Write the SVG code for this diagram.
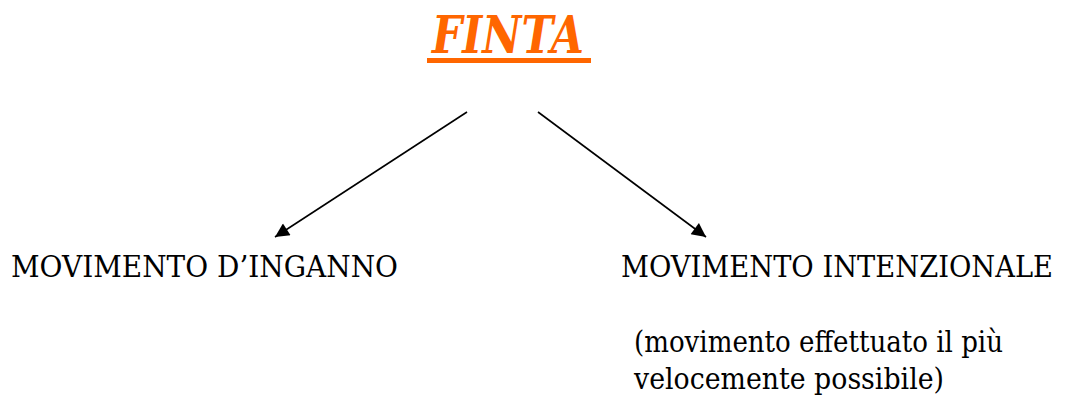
<svg xmlns="http://www.w3.org/2000/svg" width="1069" height="395" viewBox="0 0 1069 395">
<style>
.t{font-family:'DejaVu Serif',serif;font-size:30px;fill:#000}
.title{font-family:'DejaVu Serif',serif;font-size:52px;font-weight:bold;font-style:italic;fill:#FF6600}
.c{stroke:#000;stroke-width:1.6;fill:none;marker-end:url(#ah)}
</style>
<defs>
<marker id="ah" viewBox="0 0 10 10" refX="10" refY="5" markerWidth="18" markerHeight="14" markerUnits="userSpaceOnUse" orient="auto">
<path d="M0,0 L10,5 L0,10 z" fill="#000"/>
</marker>
</defs>
<rect width="1069" height="395" fill="#fff"/>
<g id="finta">
<text class="title" x="432" y="53" textLength="152" lengthAdjust="spacingAndGlyphs">FINTA</text>
<rect x="427" y="58" width="164" height="5" fill="#FF6600"/>
</g>
<g id="connectors">
<line class="c" x1="467" y1="112" x2="275" y2="237"/>
<line class="c" x1="538" y1="112" x2="706" y2="237"/>
</g>
<g id="inganno">
<text class="t" x="11" y="277" textLength="387" lengthAdjust="spacingAndGlyphs">MOVIMENTO D’INGANNO</text>
</g>
<g id="intenzionale">
<text class="t" x="621" y="277" textLength="432" lengthAdjust="spacingAndGlyphs">MOVIMENTO INTENZIONALE</text>
<text class="t" x="634" y="352" textLength="369" lengthAdjust="spacingAndGlyphs">(movimento effettuato il più</text>
<text class="t" x="634" y="389" textLength="310" lengthAdjust="spacingAndGlyphs">velocemente possibile)</text>
</g>
</svg>
